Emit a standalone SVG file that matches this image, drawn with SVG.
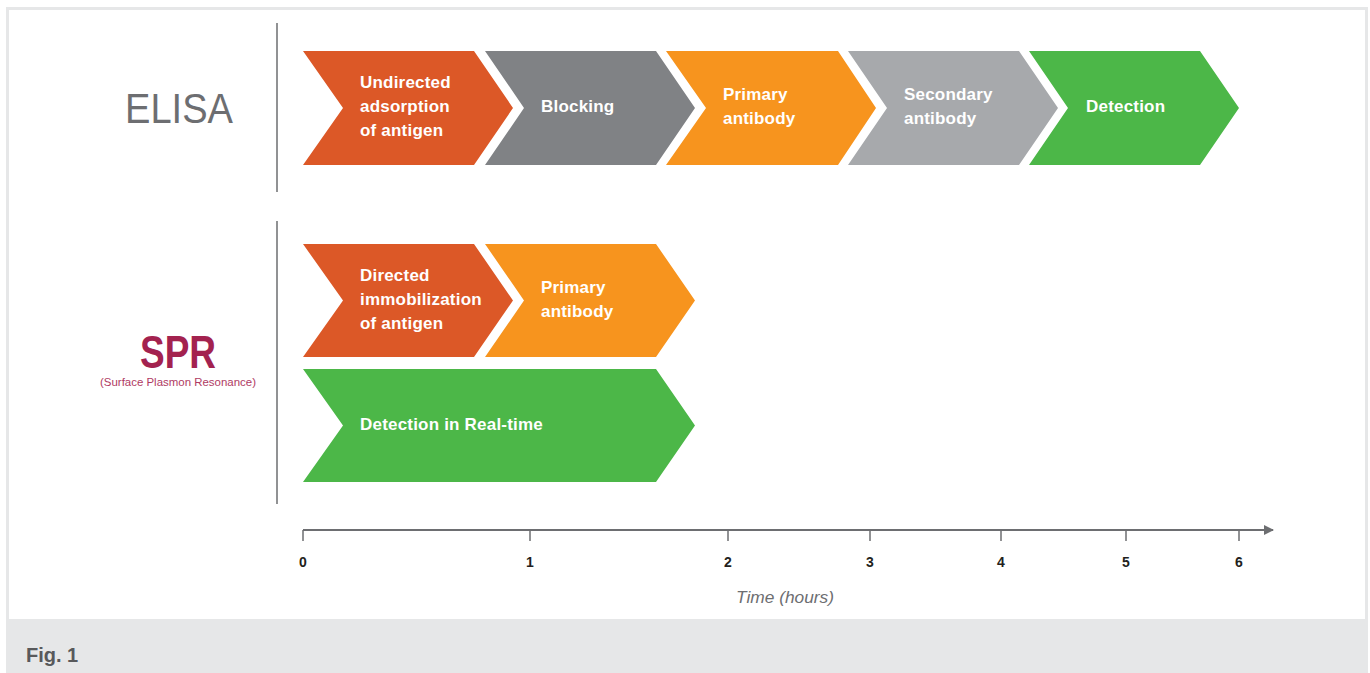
<svg xmlns="http://www.w3.org/2000/svg" width="1370" height="673" viewBox="0 0 1370 673">
<defs>
<style>
.lbl{font-family:"Liberation Sans",Arial,sans-serif;font-weight:bold;font-size:17px;fill:#ffffff;letter-spacing:0.2px}
.tick{font-family:"Liberation Sans",Arial,sans-serif;font-weight:bold;font-size:14px;fill:#231f20;text-anchor:middle}
.vline{stroke:#6d6e71;stroke-width:1.5}
.axis{stroke:#6d6e71;stroke-width:2;fill:none}
</style>
<marker id="arr" viewBox="0 0 10 10" refX="9" refY="5" markerWidth="5" markerHeight="5" orient="auto" markerUnits="strokeWidth">
<path d="M0,0 L10,5 L0,10 Z" fill="#6d6e71"/>
</marker>
</defs>
<rect x="0" y="0" width="1370" height="673" fill="#ffffff"/>
<rect x="6" y="7" width="1362" height="666" fill="#e6e7e8"/>
<rect x="9" y="10" width="1356" height="609" fill="#ffffff"/>

<g id="elisa-title">
<text x="125" y="123" font-family="Liberation Sans,Arial,sans-serif" font-size="43" fill="#6d6e71" textLength="108" lengthAdjust="spacingAndGlyphs">ELISA</text>
</g>
<g id="spr-title">
<text x="140" y="368" font-family="Liberation Sans,Arial,sans-serif" font-size="46" font-weight="bold" fill="#a3224f" textLength="76" lengthAdjust="spacingAndGlyphs">SPR</text>
<text x="100" y="386" font-family="Liberation Sans,Arial,sans-serif" font-size="11.5" fill="#b03a63" textLength="156" lengthAdjust="spacingAndGlyphs">(Surface Plasmon Resonance)</text>
</g>

<g id="dividers">
<line class="vline" x1="277" y1="23" x2="277" y2="192"/>
<line class="vline" x1="277" y1="221" x2="277" y2="504"/>
</g>

<g id="e1">
<polygon points="303,51 474,51 513,108 474,165 303,165 343,108" fill="#dc5827"/>
<text class="lbl" x="360" y="88">Undirected</text>
<text class="lbl" x="360" y="112">adsorption</text>
<text class="lbl" x="360" y="136">of antigen</text>
</g>
<g id="e2">
<polygon points="485,51 656,51 695,108 656,165 485,165 524,108" fill="#808285"/>
<text class="lbl" x="541" y="112">Blocking</text>
</g>
<g id="e3">
<polygon points="666,51 838,51 876,108 838,165 666,165 706,108" fill="#f7941e"/>
<text class="lbl" x="723" y="100">Primary</text>
<text class="lbl" x="723" y="124">antibody</text>
</g>
<g id="e4">
<polygon points="848,51 1019,51 1058,108 1019,165 848,165 887,108" fill="#a7a9ac"/>
<text class="lbl" x="904" y="100">Secondary</text>
<text class="lbl" x="904" y="124">antibody</text>
</g>
<g id="e5">
<polygon points="1029,51 1200,51 1239,108 1200,165 1029,165 1068,108" fill="#4cb748"/>
<text class="lbl" x="1086" y="112">Detection</text>
</g>

<g id="s1">
<polygon points="303,244 474,244 513,300.5 474,357 303,357 343,300.5" fill="#dc5827"/>
<text class="lbl" x="360" y="281">Directed</text>
<text class="lbl" x="360" y="305">immobilization</text>
<text class="lbl" x="360" y="329">of antigen</text>
</g>
<g id="s2">
<polygon points="485,244 656,244 695,300.5 656,357 485,357 524,300.5" fill="#f7941e"/>
<text class="lbl" x="541" y="293">Primary</text>
<text class="lbl" x="541" y="317">antibody</text>
</g>
<g id="s3">
<polygon points="303,369 656,369 695,425.5 656,482 303,482 343,425.5" fill="#4cb748"/>
<text class="lbl" x="360" y="430">Detection in Real-time</text>
</g>

<g id="axis">
<line class="axis" x1="303" y1="530" x2="1273" y2="530" marker-end="url(#arr)"/>
<g stroke="#6d6e71" stroke-width="1.5">
<line x1="303" y1="530" x2="303" y2="541"/>
<line x1="530" y1="530" x2="530" y2="541"/>
<line x1="728" y1="530" x2="728" y2="541"/>
<line x1="870" y1="530" x2="870" y2="541"/>
<line x1="1001" y1="530" x2="1001" y2="541"/>
<line x1="1126" y1="530" x2="1126" y2="541"/>
<line x1="1239" y1="530" x2="1239" y2="541"/>
</g>
<text class="tick" x="303" y="567">0</text>
<text class="tick" x="530" y="567">1</text>
<text class="tick" x="728" y="567">2</text>
<text class="tick" x="870" y="567">3</text>
<text class="tick" x="1001" y="567">4</text>
<text class="tick" x="1126" y="567">5</text>
<text class="tick" x="1239" y="567">6</text>
<text x="785" y="603" text-anchor="middle" font-family="Liberation Sans,Arial,sans-serif" font-style="italic" font-size="17" fill="#6d6e71" textLength="98" lengthAdjust="spacingAndGlyphs">Time (hours)</text>
</g>

<g id="caption">
<text x="26" y="662" font-family="Liberation Sans,Arial,sans-serif" font-weight="bold" font-size="20" fill="#58595b">Fig. 1</text>
</g>
</svg>
